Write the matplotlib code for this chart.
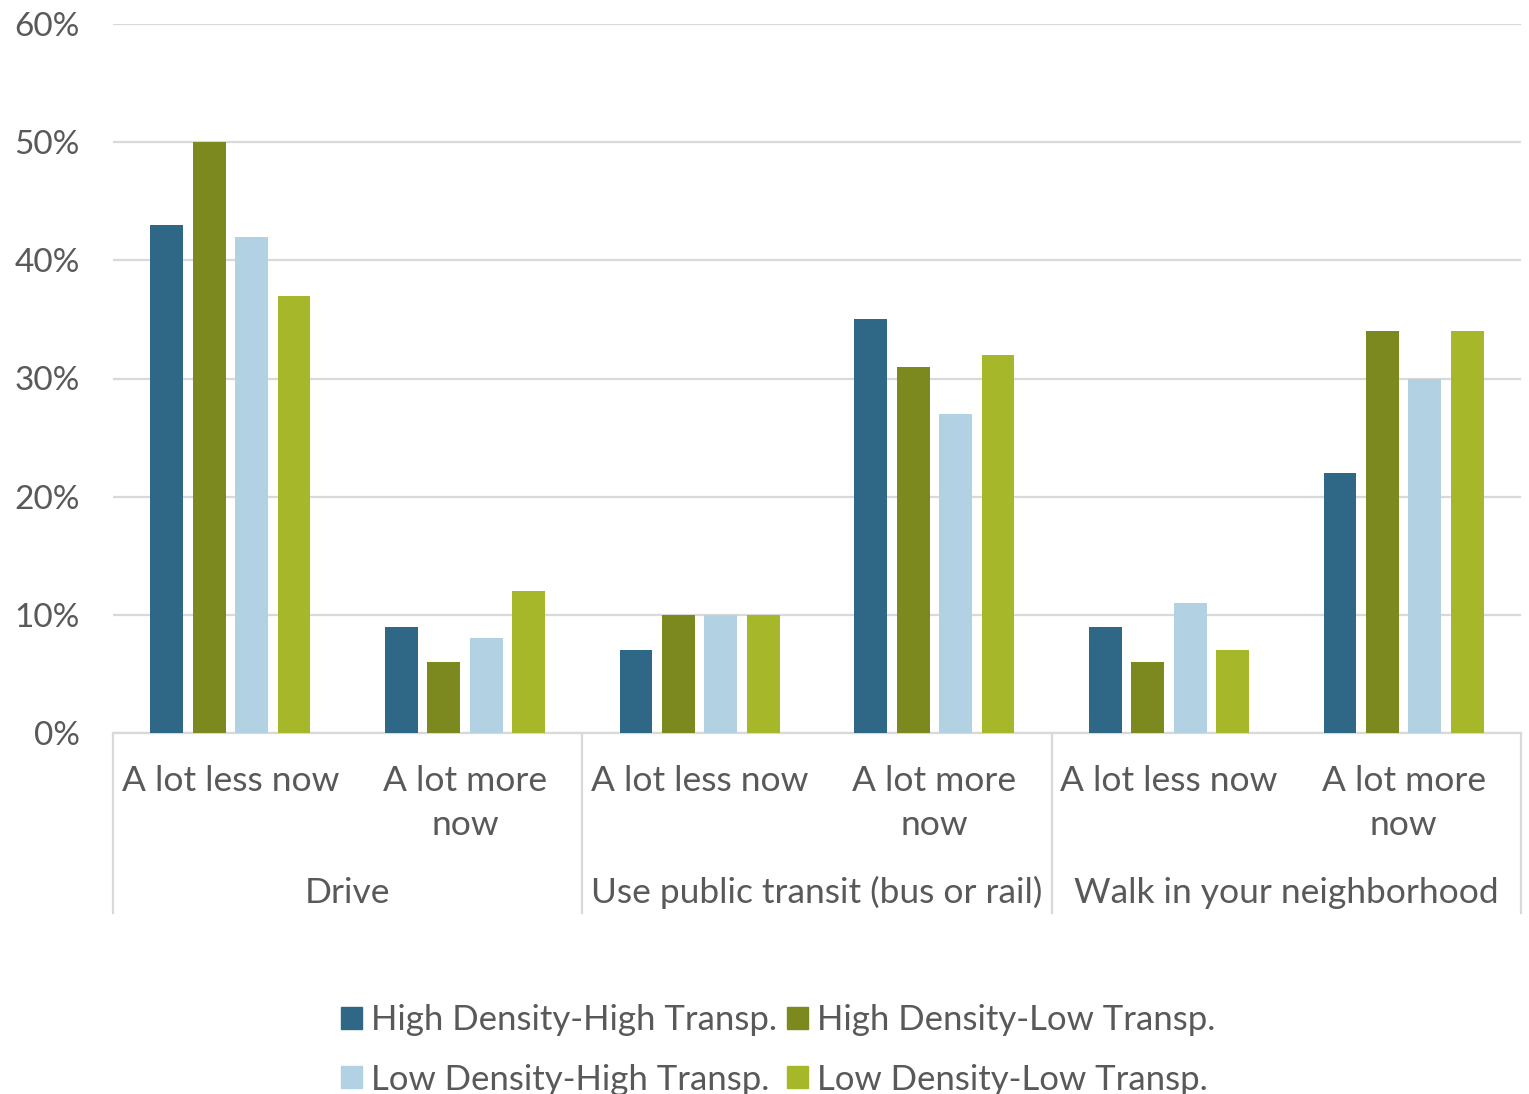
import numpy as np
import matplotlib
matplotlib.use("Agg")
import matplotlib.pyplot as plt
from matplotlib.patches import Patch

plt.rcParams['font.family'] = ['Lato', 'DejaVu Sans']

# survey data: share of respondents per travel mode / change
groups = ['Drive', 'Use public transit (bus or rail)', 'Walk in your neighborhood']
answers = ['A lot less now', 'A lot more\nnow']
series = ['High Density-High Transp.', 'High Density-Low Transp.',
          'Low Density-High Transp.', 'Low Density-Low Transp.']
hd_ht = [43, 9, 7, 35, 9, 22]
hd_lt = [50, 6, 10, 31, 6, 34]
ld_ht = [42, 8, 10, 27, 11, 30]
ld_lt = [37, 12, 10, 32, 7, 34]
colors = ['#2F6886', '#7C891F', '#B2D1E2', '#A6B829']

values = [hd_ht, hd_lt, ld_ht, ld_lt]
txt = '#595959'
grid = '#D9D9D9'

fig = plt.figure(figsize=(15.29, 10.94), dpi=100)
ax = fig.add_axes([113/1529, 1 - 733/1094, 1408/1529, 709/1094])

x = np.arange(len(hd_ht))
width = 0.14
step = 0.181
for i, (vals, c) in enumerate(zip(values, colors)):
    ax.bar(x + (i - 1.5) * step, vals, width, color=c, zorder=3, label=series[i])

ax.set_xlim(-0.5, len(x) - 0.5)
ax.set_ylim(0, 60)
ax.set_yticks(np.arange(0, 61, 10))
ax.set_yticklabels([f'{v}%' for v in range(0, 61, 10)], fontsize=24, color=txt)
ax.tick_params(axis='y', length=0, pad=24)
ax.set_xticks([])
ax.grid(axis='y', color=grid, lw=1.6, zorder=0)
for s in ['top', 'right', 'left']:
    ax.spines[s].set_visible(False)
ax.spines['bottom'].set_color(grid)
ax.spines['bottom'].set_linewidth(1.6)

tr = ax.get_xaxis_transform()
for k in range(len(x)):
    ax.text(x[k], -0.045, answers[k % 2], transform=tr, ha='center', va='top',
            fontsize=25.5, color=txt, linespacing=1.45)
for g, name in enumerate(groups):
    ax.text(2 * g + 0.5, -0.225, name, transform=tr, ha='center', va='center',
            fontsize=25.5, color=txt)
for b in [-0.5, 1.5, 3.5, 5.5]:
    ax.plot([b, b], [0, -0.254], transform=tr, color=grid, lw=1.6, clip_on=False)

# legend laid out row by row: matplotlib fills columns first
order = [0, 2, 1, 3]
handles = [Patch(color=colors[i]) for i in order]
labels = [series[i] for i in order]
fig.legend(handles, labels, loc='lower center', bbox_to_anchor=(0.509, -0.03),
           ncol=2, frameon=False, fontsize=25, labelcolor=txt,
           handlelength=0.6, handleheight=0.6, handletextpad=0.25,
           columnspacing=0.3, labelspacing=0.78)

fig.savefig('out.png', dpi=100)
